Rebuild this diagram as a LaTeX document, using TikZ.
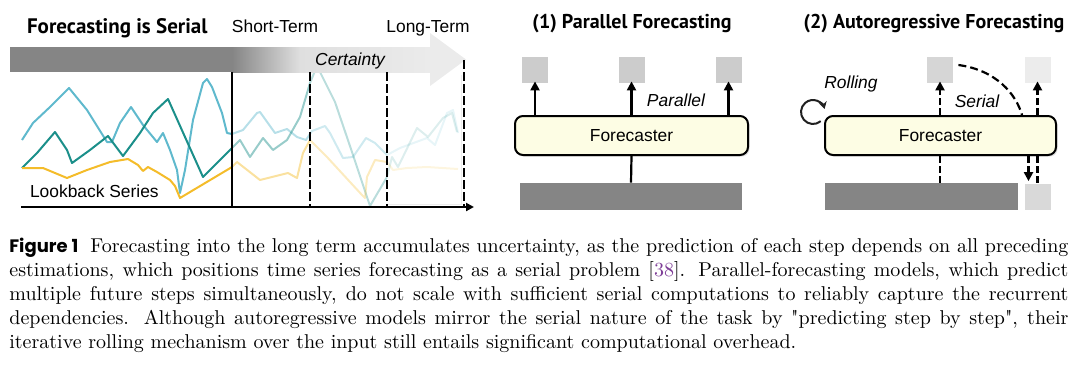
\documentclass[tikz,border=0pt]{standalone}
\usepackage{fontspec}
\setsansfont{Liberation Sans}
\newfontfamily\titelfont{PT Sans}
\newfontfamily\figfont{Poppins}
\usepackage{tikz}
\usetikzlibrary{arrows.meta,calc,positioning,shadows}
\definecolor{c1}{RGB}{95,185,205}
\definecolor{c2}{RGB}{27,143,138}
\definecolor{c3}{RGB}{244,188,42}
\definecolor{c4}{RGB}{125,60,150}
\definecolor{dunkel}{RGB}{133,133,133}
\definecolor{hell}{RGB}{204,204,204}
\definecolor{blass}{RGB}{235,235,235}
\definecolor{kasten}{RGB}{253,253,228}
\newcommand{\klein}{\sffamily\fontsize{8.7}{10}\selectfont}
\newcommand{\serA}{(22,140) -- (33,123) -- (50,107) -- (69,88) -- (87,110) -- (107,142) -- (112,142) -- (120,123) -- (131,107) -- (143,125) -- (157,142) -- (163,133) -- (170,150) -- (177,170) -- (180,193) -- (185,170) -- (193,120) -- (203,83) -- (207,79) -- (212,87) -- (222,113) -- (227,133) -- (232,134) -- (243,130) -- (257,113) -- (260,112) -- (275,133) -- (287,129) -- (297,137) -- (306,140) -- (312,131) -- (325,126) -- (330,133) -- (343,158) -- (353,157) -- (366,138) -- (375,143) -- (387,155) -- (400,148) -- (427,138) -- (435,145) -- (447,113) -- (453,110) -- (458,133)}
\newcommand{\serB}{(22,168) -- (37,153) -- (55,132) -- (67,150) -- (72,163) -- (90,150) -- (108,136) -- (123,156) -- (140,133) -- (153,113) -- (168,99) -- (185,137) -- (203,177) -- (232,148) -- (240,140) -- (250,157) -- (263,138) -- (273,150) -- (287,140) -- (300,117) -- (310,83) -- (317,66) -- (335,102) -- (352,152) -- (370,206) -- (387,177) -- (392,157) -- (398,167) -- (417,128) -- (428,137) -- (443,118) -- (452,113) -- (457,132)}
\newcommand{\serC}{(22,168) -- (43,168) -- (67,178) -- (87,170) -- (110,162) -- (128,159) -- (138,165) -- (143,171) -- (148,167) -- (157,172) -- (170,180) -- (175,186) -- (180,198) -- (232,167) -- (237,162) -- (260,180) -- (288,173) -- (297,178) -- (303,153) -- (310,140) -- (327,157) -- (350,182) -- (362,195) -- (365,198) -- (367,177) -- (375,160) -- (387,162) -- (393,170) -- (407,168) -- (427,167) -- (458,169)}

\begin{document}
\begin{tikzpicture}[
  x=0.5pt, y=-0.5pt,
  font=\klein,
  pfeil/.style={-{Triangle[length=4.5pt, width=4.5pt]}, line width=1.1pt},
  spfeil/.style={pfeil, dash pattern=on 3.5pt off 1.5pt},
  strich/.style={line width=1.1pt, dash pattern=on 3.5pt off 1.5pt},
  grenze/.style={line width=1.3pt, dash pattern=on 4.5pt off 1.5pt},
  reihe/.style={line width=1pt, line join=round},
  fc/.style={draw, line width=1pt, rounded corners=4pt, fill=kasten,
             minimum height=19.5pt,
             drop shadow={shadow xshift=0.8pt, shadow yshift=-0.8pt, opacity=0.25}},
  feld/.style={minimum size=13pt, inner sep=0pt},
  balken/.style={fill=dunkel, minimum height=13.5pt, inner sep=0pt},
  titel/.style={font=\titelfont\bfseries\fontsize{10}{12}\selectfont}
]
\useasboundingbox (0,0) rectangle (1080,365);

% ---------- Zeitreihen, nach rechts immer blasser ----------------
\foreach \xa/\xb/\op in {21/232/1, 232/310/0.45, 310/387/0.3, 387/470/0.15}{
  \begin{scope}
    \clip (\xa,40) rectangle (\xb,206);
    \draw[reihe, c1, draw opacity=\op] \serA;
    \draw[reihe, c2, draw opacity=\op] \serB;
    \draw[reihe, c3, draw opacity=\op] \serC;
  \end{scope}
}

% ---------- Balken "Certainty" ------------------------------------
\fill[dunkel] (10,47) rectangle (232,72);
\shade[left color=dunkel, right color=gray!25] (232,47) rectangle (300,72);
\shade[left color=gray!25, right color=blass] (300,47) rectangle (430,72);
\fill[blass] (430,33) -- (466,59.5) -- (430,86) -- cycle;
\node[anchor=base, font=\klein\itshape] (cert) at (350,65) {Certainty};

% ---------- Achse und Grenzen -------------------------------------
\draw[gray!15] (387,204) -- (461,204) -- (461,75);
\draw[line width=0.9pt] (232,72) -- (232,207);
\draw[grenze] (310,72) -- (310,207);
\draw[grenze] (387,72) -- (387,207);
\draw[grenze] (464,60) -- (464,207);
\draw[line width=1.1pt, -{Triangle[length=4pt, width=4pt]}] (21,207) -- (474,207);

\node[titel, font=\titelfont\bfseries\fontsize{10.5}{12}\selectfont, anchor=base west]
  (links) at (20,33) {Forecasting is Serial};
\node[anchor=base] (kurz) at (275,32) {Short-Term};
\node[anchor=base] (lang) at (428,32) {Long-Term};
\node[anchor=base west] (lookback) at (23,197) {Lookback Series};

% ---------- (1) Parallel ------------------------------------------
\node[titel, anchor=base] (t1) at (632,28) {(1) Parallel Forecasting};
\node[fc, minimum width=116.5pt] (fc1) at (631.5,135.5) {Forecaster};
\node[feld, fill=hell] (p1) at (535,70) {};
\node[feld, fill=hell] (p2) at (631.5,70) {};
\node[feld, fill=hell] (p3) at (728.5,70) {};
\node[balken, minimum width=111pt] (in1) at (631,196.5) {};
\foreach \p in {p1,p2,p3}
  \draw[pfeil, shorten >=-1pt] (fc1.north -| \p) -- (\p.south);
\draw[line width=1.1pt] (in1.north) -- (fc1.south);
\node[anchor=base, font=\klein\itshape] (par) at (676,106) {Parallel};

% ---------- (2) Autoregressiv -------------------------------------
\node[titel, anchor=base] (t2) at (934,28) {(2) Autoregressive Forecasting};
\node[fc, minimum width=115.5pt] (fc2) at (940.5,135.5) {Forecaster};
\node[feld, fill=gray!32] (q1) at (940,70) {};
\node[feld, fill=gray!15] (q2) at (1037.5,70) {};
\node[feld, fill=gray!30] (q3) at (1037.5,196.5) {};
\node[balken, minimum width=96.5pt] (in2) at (921.5,196.5) {};
\draw[spfeil, shorten >=-1pt] (fc2.north -| q1) -- (q1.south);
\draw[spfeil, shorten >=-1pt] (fc2.north -| q2) -- (q2.south);
\draw[strich] (in2.north -| q1) -- (fc2.south -| q1);
\draw[strich] (fc2.south -| q3) -- (q3.north);
\draw[spfeil] ($(fc2.south -| q3)+(-9,0)$) -- ($(q3.north)+(-9,-2)$);
\draw[strich, dash pattern=on 4pt off 2pt]
  ($(q1.east)+(5,-5)$) .. controls (996,70) and (1016,94) .. ($(fc2.north east)+(-35,0)$);
\node[anchor=base, font=\klein\itshape] (ser) at (977,107) {Serial};
\node[anchor=base, font=\klein\itshape] (roll) at (851,88) {Rolling};
\draw[line width=1pt, gray!25!black, -{Stealth[length=3.5pt, width=4pt]}]
  (813,112) ++(50:12) arc[start angle=50, end angle=345, radius=12];

% ---------- Bildunterschrift --------------------------------------
\node[anchor=north west, inner sep=0pt, text width=529.5pt, align=justify,
      font=\rmfamily\fontsize{10}{12}\selectfont] (cap) at (9,238)
  {{\figfont\bfseries\fontsize{9}{12}\selectfont Figure 1}\hspace{6pt}Forecasting into the long term accumulates uncertainty, as the prediction of each step depends on all preceding\linebreak
   estimations, which positions time series forecasting as a serial problem [\textcolor{c4}{38}]. Parallel-forecasting models, which predict\linebreak
   multiple future steps simultaneously, do not scale with sufficient serial computations to reliably capture the recurrent\linebreak
   dependencies. Although autoregressive models mirror the serial nature of the task by \textquotedbl predicting step by step\textquotedbl, their\linebreak
   iterative rolling mechanism over the input still entails significant computational overhead.};

\end{tikzpicture}
\end{document}
